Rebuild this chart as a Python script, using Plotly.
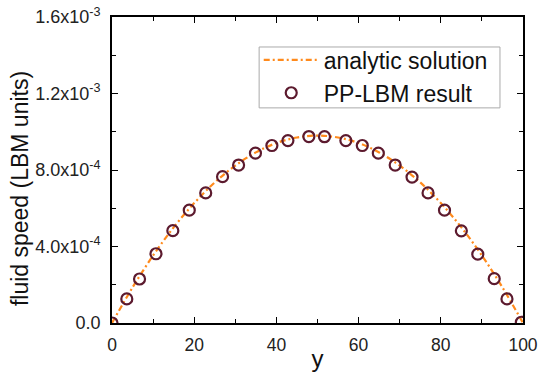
import plotly.graph_objects as go

# Analytic solution
analytic_x = [0, 5, 10, 15, 20, 25, 30, 35, 40, 45, 50, 55, 60, 65, 70, 75, 80, 85, 90, 95, 100]
analytic_u = [0.0, 0.186e-3, 0.353e-3, 0.500e-3, 0.627e-3, 0.735e-3, 0.823e-3, 0.892e-3, 0.941e-3, 0.970e-3,
              0.980e-3, 0.970e-3, 0.941e-3, 0.892e-3, 0.823e-3, 0.735e-3, 0.627e-3, 0.500e-3, 0.353e-3, 0.186e-3, 0.0]

# PP-LBM result points
lbm_x = [0, 3.6, 6.7, 10.7, 14.8, 18.8, 22.8, 26.9, 30.8, 34.9, 38.9, 42.8, 47.9,
         51.7, 56.9, 60.9, 64.8, 68.9, 73.0, 76.9, 80.9, 85.0, 89.0, 93.0, 96.1, 99.6]
lbm_u = [0.0, 0.126e-3, 0.230e-3, 0.362e-3, 0.483e-3, 0.590e-3, 0.680e-3, 0.765e-3, 0.826e-3, 0.888e-3,
         0.928e-3, 0.954e-3, 0.975e-3, 0.974e-3, 0.954e-3, 0.928e-3, 0.888e-3, 0.826e-3, 0.763e-3,
         0.680e-3, 0.590e-3, 0.482e-3, 0.360e-3, 0.232e-3, 0.126e-3, 0.004e-3]

x_ticks = [0, 20, 40, 60, 80, 100]
y_tickvals = [0, 0.4e-3, 0.8e-3, 1.2e-3, 1.6e-3]
y_ticktext = ["0.0", "4.0x10<sup>-4</sup>", "8.0x10<sup>-4</sup>", "1.2x10<sup>-3</sup>", "1.6x10<sup>-3</sup>"]

FONT = "Liberation Sans, Arial, sans-serif"

fig = go.Figure()
fig.add_trace(go.Scatter(
    x=analytic_x, y=analytic_u, mode="lines", name="analytic solution",
    line=dict(color="#ff8a1c", width=2.2, dash="6px,3px,2px,3px", shape="spline"),
))
fig.add_trace(go.Scatter(
    x=lbm_x, y=lbm_u, mode="markers", name="PP-LBM result",
    marker=dict(symbol="circle-open", size=11, color="#5c1a2e", line=dict(width=2.2, color="#5c1a2e")),
))

axis_common = dict(
    showline=True, linecolor="black", linewidth=1.8, mirror="ticks",
    ticks="inside", ticklen=6, tickwidth=1.3, tickcolor="black",
    showgrid=False, zeroline=False, automargin=False, ticklabeloverflow="allow",
)

fig.update_xaxes(
    range=[0, 100], tickvals=x_ticks, **axis_common,
    tickfont=dict(family=FONT, size=17.5, color="#222"), ticklabelstandoff=5,
    minor=dict(ticks="inside", ticklen=4, tickwidth=1.2, tickcolor="black", dtick=10, tick0=0, showgrid=False),
    title=dict(text="y", font=dict(family=FONT, size=24, color="#111"), standoff=0),
)
fig.update_yaxes(
    range=[0, 1.6e-3], tickvals=y_tickvals, ticktext=y_ticktext, **axis_common,
    tickfont=dict(family=FONT, size=18, color="#222"), ticklabelstandoff=6,
    minor=dict(ticks="inside", ticklen=4, tickwidth=1.2, tickcolor="black", dtick=0.2e-3, tick0=0, showgrid=False),
)

fig.update_layout(
    width=552, height=372,
    margin=dict(l=112, r=29, t=17, b=49),
    paper_bgcolor="white", plot_bgcolor="white",
    showlegend=True,
    legend=dict(
        x=0.357, y=0.93, xanchor="left", yanchor="top",
        bgcolor="rgba(0,0,0,0)", borderwidth=0,
        font=dict(family=FONT, size=23, color="#111"),
        tracegroupgap=0, itemwidth=55,
    ),
    shapes=[dict(
        type="rect", xref="paper", yref="paper",
        x0=0.358, x1=0.944, y0=0.703, y1=0.902,
        line=dict(color="#aaaaaa", width=1), fillcolor="white", layer="below",
    )],
    annotations=[dict(
        text="fluid speed (LBM units)", textangle=-90,
        xref="paper", yref="paper", x=-0.222, y=0.44,
        xanchor="center", yanchor="middle", showarrow=False,
        font=dict(family=FONT, size=23, color="#111"),
    )],
)

fig.write_html("out.html", config={"displayModeBar": False},
               post_script="document.body.style.margin='0px';")
